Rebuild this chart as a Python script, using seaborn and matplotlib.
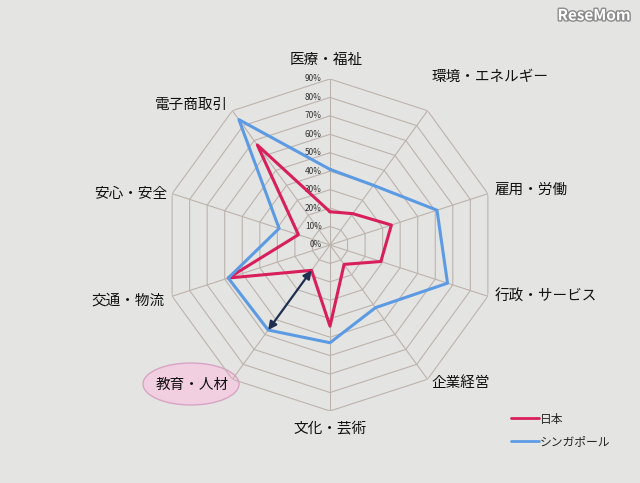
import numpy as np
import pandas as pd
import matplotlib
matplotlib.use("Agg")
import matplotlib.pyplot as plt
import matplotlib.patheffects as pe
from matplotlib.patches import Ellipse
import seaborn as sns

# chart data (percent)
categories = ["医療・福祉", "環境・エネルギー", "雇用・労働", "行政・サービス", "企業経営",
              "文化・芸術", "教育・人材", "交通・物流", "安心・安全", "電子商取引"]
japan = [18, 21, 35, 29, 13, 44, 17, 58, 18, 67]
singapore = [41, 40, 61, 67, 42, 53, 57, 58, 29, 84]
series_names = ["日本", "シンガポール"]
ring_values = [0, 10, 20, 30, 40, 50, 60, 70, 80, 90]

sns.set_theme(style="white")
plt.rcParams["font.family"] = ["Noto Sans CJK JP", "DejaVu Sans"]

n = len(categories)
angles = np.linspace(0, 2 * np.pi, n, endpoint=False)

rows = []
for name, vals in zip(series_names, [japan, singapore]):
    for a, v in zip(list(angles) + [2 * np.pi], vals + [vals[0]]):
        rows.append({"angle": a, "value": v, "country": name})
df = pd.DataFrame(rows)

bg = "#e4e4e2"
fig = plt.figure(figsize=(6.4, 4.83), dpi=100, facecolor=bg)
ax = fig.add_axes([0.5156 - 0.2594, 0.4928 - 0.3437, 0.5188, 0.6874], projection="polar")
ax.set_facecolor("none")
ax.set_theta_zero_location("N")
ax.set_theta_direction(-1)
ax.set_ylim(0, 90)
ax.grid(False)
ax.spines["polar"].set_visible(False)
ax.set_xticks([])
ax.set_yticks([])

# polygon grid + spokes
grid_col = "#bdb3ad"
closed = np.append(angles, 2 * np.pi)
for r in ring_values[1:]:
    ax.plot(closed, [r] * (n + 1), color=grid_col, lw=0.8, zorder=1)
for a in angles:
    ax.plot([a, a], [0, 90], color=grid_col, lw=0.8, zorder=1)

# ring labels
for r in ring_values:
    ax.annotate(f"{r}%", xy=(0, r), xytext=(-8, 0), textcoords="offset pixels",
                ha="right", va="center", fontsize=6, color="#333333")

palette = {"日本": "#d81e5b", "シンガポール": "#5c9be4"}
sns.lineplot(data=df, x="angle", y="value", hue="country", palette=palette,
             sort=False, estimator=None, lw=2.2, ax=ax, legend=False, zorder=3)

# category labels
offsets = [(-4, 19, "center"), (4, 34, "left"), (7, 4, "left"), (7, -1, "left"),
           (4, -4, "left"), (0, -17, "center"), (-4, -6, "right"), (-8, -4, "right"),
           (-5, 0, "right"), (-4, 6, "right")]
for a, lab, (dx, dy, ha) in zip(angles, categories, offsets):
    ax.annotate(lab, xy=(a, 90), xytext=(dx, dy), textcoords="offset pixels",
                ha=ha, va="center", fontsize=10.5, color="#111111", zorder=5)

# highlight ellipse behind 教育・人材
ell = Ellipse((191 / 640, 1 - 384 / 483), 96 / 640, 42 / 483,
              transform=fig.transFigure, facecolor="#f1cfe1",
              edgecolor="#d8a4c4", lw=1.0, zorder=0.5, clip_on=False)
ax.add_artist(ell)

# arrow between the two 教育・人材 points
i = categories.index("教育・人材")
ax.annotate("", xy=(angles[i], singapore[i]), xytext=(angles[i], japan[i]),
            arrowprops=dict(arrowstyle="<|-|>", color="#1f2f4f", lw=1.6,
                            mutation_scale=12, shrinkA=0, shrinkB=0), zorder=6)

# legend
handles = [plt.Line2D([], [], color=palette[s], lw=2) for s in series_names]
fig.legend(handles, series_names, loc="upper left", bbox_to_anchor=(500 / 640, 1 - 402 / 483),
           frameon=False, fontsize=8.5, handlelength=2.4, handletextpad=0.1, labelspacing=0.8)

fig.text(0.985, 0.985, "ReseMom", ha="right", va="top", fontsize=11, color="white",
         fontweight="bold", path_effects=[pe.withStroke(linewidth=2, foreground="#8a8a8a")])

fig.savefig("out.png", dpi=100, facecolor=bg)
